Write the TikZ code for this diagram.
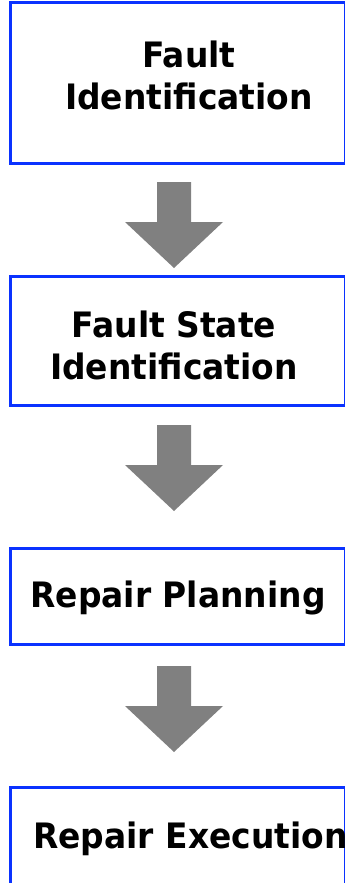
\documentclass[tikz,border=0pt]{standalone}
\usepackage{fontspec}
\setsansfont{DejaVu Sans}[FakeStretch=0.94]
\usetikzlibrary{calc}
\definecolor{boxblue}{RGB}{10,50,255}
\definecolor{arrowgray}{RGB}{128,128,128}
\tikzset{
  stage/.style={draw=boxblue, line width=3pt, minimum width=335pt,
    inner sep=0pt, outer sep=0pt, anchor=north west},
  stagetext/.style={anchor=base, align=center, inner sep=0pt,
    font=\sffamily\bfseries\fontsize{35}{42}\selectfont},
  downarrow/.pic={
    \fill[arrowgray] (-17,0) -- (17,0) -- (17,-40) -- (49,-40)
      -- (0,-86) -- (-49,-40) -- (-17,-40) -- cycle;
  },
}
\begin{document}
\begin{tikzpicture}[x=1pt, y=1pt]
  \useasboundingbox (0,0) rectangle (345,-883);
  \clip (0,0) rectangle (345,-883);

  % the four stage boxes
  \node[stage, minimum height=160pt] (b1) at (10,-3)   {};
  \node[stage, minimum height=129pt] (b2) at (10,-276) {};
  \node[stage, minimum height=96pt]  (b3) at (10,-548) {};
  \node[stage, minimum height=130pt] (b4) at (10,-787) {};

  % stage titles (base anchor sits on the last line)
  \node[stagetext] (t1) at (189,-109) {Fault\\Identification};
  \node[stagetext] (t2) at (174,-379) {Fault State\\Identification};
  \node[stagetext] (t3) at (178,-607) {Repair Planning};
  \node[stagetext, anchor=base west] (t4) at (33,-848) {Repair Execution};

  % block arrows between the stages
  \pic at ($(b1.south)+(-3.5,-19)$) {downarrow};
  \pic at ($(b2.south)+(-3.5,-20)$) {downarrow};
  \pic at ($(b3.south)+(-3.5,-22)$) {downarrow};
\end{tikzpicture}
\end{document}
